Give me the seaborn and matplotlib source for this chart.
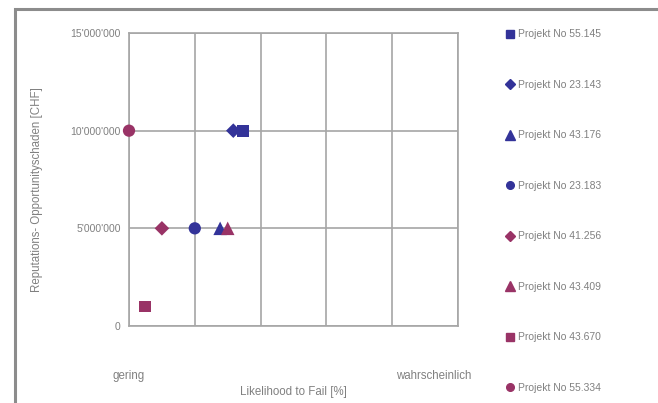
import matplotlib
matplotlib.use("Agg")
import matplotlib.pyplot as plt
import matplotlib.ticker as mticker
import matplotlib.transforms as mtransforms
from matplotlib.lines import Line2D
from matplotlib.patches import Rectangle
import pandas as pd
import seaborn as sns

# Projects, likelihood (0-100 %) and reputational / opportunity damage (CHF)
projects = ["Projekt No 55.145", "Projekt No 23.143", "Projekt No 43.176",
            "Projekt No 23.183", "Projekt No 41.256", "Projekt No 43.409",
            "Projekt No 43.670", "Projekt No 55.334"]
likelihood = [34.7, 31.7, 27.7, 20.0, 10.0, 30.0, 4.8, 0.0]
damage = [10_000_000, 10_000_000, 5_000_000, 5_000_000,
          5_000_000, 5_000_000, 1_000_000, 10_000_000]
colors = ["#333399", "#333399", "#333399", "#333399",
          "#993366", "#993366", "#993366", "#993366"]
markers = ["s", "D", "^", "o", "D", "^", "s", "o"]
y_ticks = [0, 5_000_000, 10_000_000, 15_000_000]
x_grid = [0, 20, 40, 60, 80, 100]
x_labels = ["gering", "wahrscheinlich"]
x_label_pos = [0, 92.6]

marker_area = {"s": 72, "D": 55, "^": 95, "o": 78}

df = pd.DataFrame({"Projekt": projects, "x": likelihood, "y": damage})

sns.set_style("white")
plt.rcParams["font.family"] = ["Liberation Sans", "DejaVu Sans"]
text_gray = "#808080"
grid_gray = "#a6a6a6"

fig = plt.figure(figsize=(6.58, 4.03), dpi=100)
ax = fig.add_axes([129 / 658, 77 / 403, 329 / 658, 293 / 403])

sns.scatterplot(data=df, x="x", y="y", hue="Projekt", style="Projekt",
                size="Projekt",
                palette=dict(zip(projects, colors)),
                markers=dict(zip(projects, markers)),
                sizes={p: marker_area[m] for p, m in zip(projects, markers)},
                edgecolor="none", legend=False, ax=ax, zorder=3,
                clip_on=False)

ax.set_xlim(0, 100)
ax.set_ylim(0, 15_000_000)
ax.set_xticks(x_grid, labels=[""] * len(x_grid))
ax.set_yticks(y_ticks)
ax.yaxis.set_major_formatter(
    mticker.FuncFormatter(lambda v, _: f"{v:,.0f}".replace(",", "'")))
ax.tick_params(axis="both", which="major", direction="out", length=3,
               width=1.2, color=grid_gray, labelsize=7.5,
               labelcolor=text_gray, pad=3)
ax.grid(True, which="major", color=grid_gray, linewidth=1.2)
for sp in ax.spines.values():
    sp.set_color(grid_gray)
    sp.set_linewidth(1.2)

# Category labels along the likelihood axis
trans = mtransforms.blended_transform_factory(ax.transData, fig.transFigure)
for pos, lab in zip(x_label_pos, x_labels):
    ax.text(pos, 1 - 376 / 403, lab, transform=trans, ha="center",
            va="center", fontsize=8.3, color=text_gray)

ax.set_xlabel("Likelihood to Fail [%]", fontsize=8.3, color=text_gray)
ax.xaxis.set_label_coords(0.50, -0.205)
ax.set_ylabel("Reputations- Opportunityschaden [CHF]", fontsize=8.3,
              color=text_gray)
ax.yaxis.set_label_coords(-0.262, 0.465)

# Legend entries on the right, one per project
leg_size = {"s": 5.5, "D": 4.8, "^": 6.5, "o": 5.5}
handles = [Line2D([], [], linestyle="none", marker=m, color=c,
                  markersize=leg_size[m])
           for m, c in zip(markers, colors)]
fig.legend(handles, projects, loc="upper left",
           bbox_to_anchor=(502 / 658, 1 - 25 / 403), frameon=False,
           fontsize=7.5, labelcolor=text_gray, handlelength=0.8,
           handletextpad=0.3, labelspacing=3.89, borderaxespad=0)

# Chart frame
fig.patches.append(Rectangle((15 / 658, -0.1), 1.2, 1 - 9.5 / 403 + 0.1,
                             transform=fig.transFigure, fill=False,
                             edgecolor="#8c8c8c", linewidth=2.2))

fig.savefig("out.png", dpi=100)
